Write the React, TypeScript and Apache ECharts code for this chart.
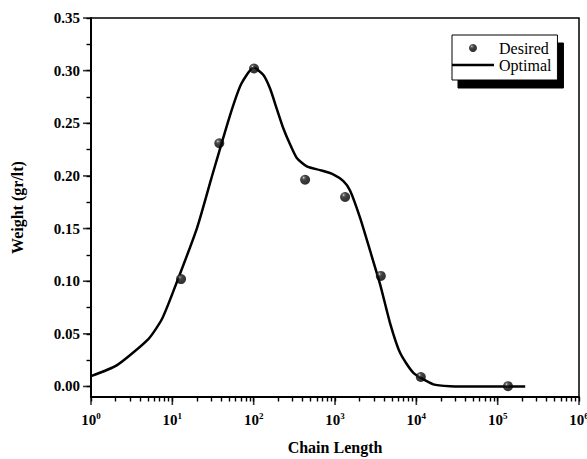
import React, { useEffect, useRef } from "react";
import * as echarts from "echarts";

const desiredX = [12.8, 37.8, 101, 429, 1331, 3660, 11350, 134000];
const desiredY = [0.102, 0.231, 0.302, 0.1964, 0.180, 0.105, 0.009, 0.0003];

const optimalX = [1, 2.07, 5.07, 7.4, 10, 20, 30, 50, 70, 100, 131, 159, 192, 232, 280, 339, 450, 656, 948, 1268, 1535, 2040, 2700, 3586, 4760, 6310, 9200, 16200, 26000, 60000, 218000];
const optimalY = [0.0098, 0.020, 0.045, 0.0636, 0.088, 0.150, 0.197, 0.255, 0.287, 0.303, 0.296, 0.283, 0.264, 0.245, 0.230, 0.217, 0.209, 0.2055, 0.2015, 0.195, 0.186, 0.160, 0.129, 0.097, 0.060, 0.032, 0.013, 0.002, 0.0003, 0, 0];

const xMajorTicks = [1, 10, 100, 1000, 10000, 100000, 1000000];
const xMinorTicks: number[] = [];
for (let e = 0; e < 6; e++) {
  for (let m = 2; m <= 9; m++) xMinorTicks.push(m * Math.pow(10, e));
}
const yMajorTicks = [0, 0.05, 0.1, 0.15, 0.2, 0.25, 0.3, 0.35];
const yMinorTicks = [0.025, 0.075, 0.125, 0.175, 0.225, 0.275, 0.325];

const xAllTicks = [...xMajorTicks, ...xMinorTicks].sort((a, b) => a - b);
const yAllTicks = [...yMajorTicks, ...yMinorTicks].sort((a, b) => a - b);

const X_MIN = 1;
const X_MAX = 1000000;
const Y_MIN = -0.01;
const Y_MAX = 0.35;

const FONT = "Liberation Serif";

export default function App() {
  const ref = useRef<HTMLDivElement>(null);
  useEffect(() => {
    const chart = echarts.init(ref.current!, undefined, { renderer: "svg" });
    const sphere = new echarts.graphic.RadialGradient(0.36, 0.3, 0.6, [
      { offset: 0, color: "#ffffff" },
      { offset: 0.15, color: "#555555" },
      { offset: 0.45, color: "#111111" },
      { offset: 1, color: "#000000" },
    ]);
    chart.setOption({
      animation: false,
      grid: {
        left: 91,
        right: 8,
        top: 18,
        bottom: 62,
        show: true,
        containLabel: false,
        outerBoundsMode: "none",
        borderColor: "#000",
        borderWidth: 1.5,
        backgroundColor: "transparent",
      },
      legend: {
        left: 452,
        top: 35,
        orient: "vertical",
        data: [
          { name: "Desired", icon: "circle" },
          { name: "Optimal", icon: "path://M0,0H42V2.5H0Z" },
        ],
        itemWidth: 42,
        itemHeight: 8,
        itemGap: 1,
        itemTextGap: 5,
        padding: [5, 6, 7, 0],
        backgroundColor: "#fff",
        borderColor: "#000",
        borderWidth: 1,
        shadowColor: "#000",
        shadowOffsetX: 6,
        shadowOffsetY: 8,
        shadowBlur: 0,
        textStyle: { fontFamily: FONT, fontSize: 16, color: "#000", lineHeight: 16 },
      },
      xAxis: {
        type: "log",
        logBase: 10,
        min: X_MIN,
        max: X_MAX,
        splitLine: { show: false },
        position: "bottom",
        name: "Chain Length",
        nameLocation: "middle",
        nameGap: 42,
        nameTextStyle: { fontFamily: FONT, fontSize: 16, fontWeight: "bold", color: "#000" },
        axisLine: { onZero: false, lineStyle: { color: "#000", width: 2 } },
        axisTick: { show: true, length: 4.5, inside: false, customValues: xAllTicks, lineStyle: { color: "#000", width: 1.4 } },
        axisLabel: {
          customValues: xMajorTicks,
          margin: 14,
          formatter: (v: number) => `{b|10}{s|${Math.round(Math.log10(v))}}`,
          rich: {
            b: { fontFamily: FONT, fontSize: 15, fontWeight: "bold", color: "#000" },
            s: { fontFamily: FONT, fontSize: 9, fontWeight: "bold", color: "#000", padding: [0, 0, 8, 0] },
          },
        },
      },
      yAxis: {
        type: "value",
        min: Y_MIN,
        max: Y_MAX,
        splitLine: { show: false },
        position: "left",
        name: "Weight (gr/lt)",
        nameLocation: "middle",
        nameGap: 66,
        nameTextStyle: { fontFamily: FONT, fontSize: 16, fontWeight: "bold", color: "#000" },
        axisLine: { show: true, onZero: false, lineStyle: { color: "#000", width: 2 } },
        axisTick: { show: true, length: 4.5, inside: false, customValues: yAllTicks, lineStyle: { color: "#000", width: 1.4 } },
        axisLabel: {
          customValues: yMajorTicks,
          margin: 11,
          formatter: (v: number) => v.toFixed(2),
          fontFamily: FONT,
          fontSize: 15,
          fontWeight: "bold",
          color: "#000",
        },
      },
      series: [
        {
          name: "xMajorTickExt",
          type: "scatter",
          clip: false,
          silent: true,
          data: xMajorTicks.map((x) => [x, Y_MIN]),
          symbol: "rect",
          symbolSize: [1.6, 8],
          symbolOffset: [0, 4],
          itemStyle: { color: "#000" },
          z: 1,
        },
        {
          name: "yMajorTickExt",
          type: "scatter",
          clip: false,
          silent: true,
          data: yMajorTicks.map((y) => [X_MIN, y]),
          symbol: "rect",
          symbolSize: [8, 1.6],
          symbolOffset: [-4, 0],
          itemStyle: { color: "#000" },
          z: 1,
        },
        {
          name: "Optimal",
          type: "line",
          data: optimalX.map((x, i) => [x, optimalY[i]]),
          smooth: 0.2,
          symbol: "none",
          lineStyle: { color: "#000", width: 2.5 },
          itemStyle: { color: "#000" },
          z: 2,
        },
        {
          name: "Desired",
          type: "scatter",
          data: desiredX.map((x, i) => [x, desiredY[i]]),
          symbol: "circle",
          symbolSize: 10,
          itemStyle: { color: sphere },
          z: 3,
        },
      ],
    });
    return () => chart.dispose();
  }, []);
  return (
    <div
      ref={ref}
      style={{ position: "fixed", left: 0, top: 0, width: 587, height: 459, background: "#fff" }}
    />
  );
}
